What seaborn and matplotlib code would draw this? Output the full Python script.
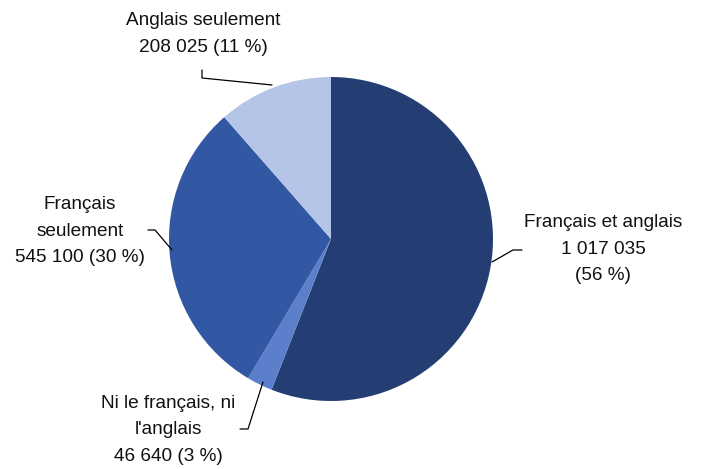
import matplotlib
matplotlib.use('Agg')
import matplotlib.pyplot as plt
import seaborn as sns

sns.set_style('white')
plt.rcParams['font.family'] = ['Liberation Sans', 'DejaVu Sans']

# data
categories = ['Français et anglais', "Ni le français, ni l'anglais",
              'Français seulement', 'Anglais seulement']
values = [1017035, 46640, 545100, 208025]
percents = [56, 3, 30, 11]
label_texts = ['Français et anglais\n1 017 035\n(56 %)',
               "Ni le français, ni\nl'anglais\n46 640 (3 %)",
               'Français\nseulement\n545 100 (30 %)',
               'Anglais seulement\n208 025 (11 %)']
colors = ['#243E73', '#5B7FCB', '#3258A4', '#B4C5E7']

W, H = 702, 469
fig = plt.figure(figsize=(W / 100, H / 100), dpi=100)
ax = fig.add_axes([0, 0, 1, 1])
ax.axis('off')

cx, cy, r = 331, H - 239, 162
ax.pie(values, colors=colors, startangle=90, counterclock=False,
       center=(cx, cy), radius=r, wedgeprops=dict(linewidth=0))
ax.set_xlim(0, W)
ax.set_ylim(0, H)

# label layout (pixel coords from top): text center, leader polyline
layout = [
    ((603, 249), [(522, 250), (513, 250), (492, 262)]),
    ((168, 430), [(240, 429), (248, 429), (263, 382)]),
    ((80, 231), [(148, 230), (155, 230), (172, 250)]),
    ((203, 34), [(202, 70), (202, 78), (272, 85)]),
]
for txt, ((tx, ty), pts) in zip(label_texts, layout):
    ax.text(tx, H - ty, txt, ha='center', va='center', fontsize=13.7,
            linespacing=1.75, color='#111111')
    ax.plot([p[0] for p in pts], [H - p[1] for p in pts], color='black', lw=0.9)

fig.savefig('out.png', dpi=100)
